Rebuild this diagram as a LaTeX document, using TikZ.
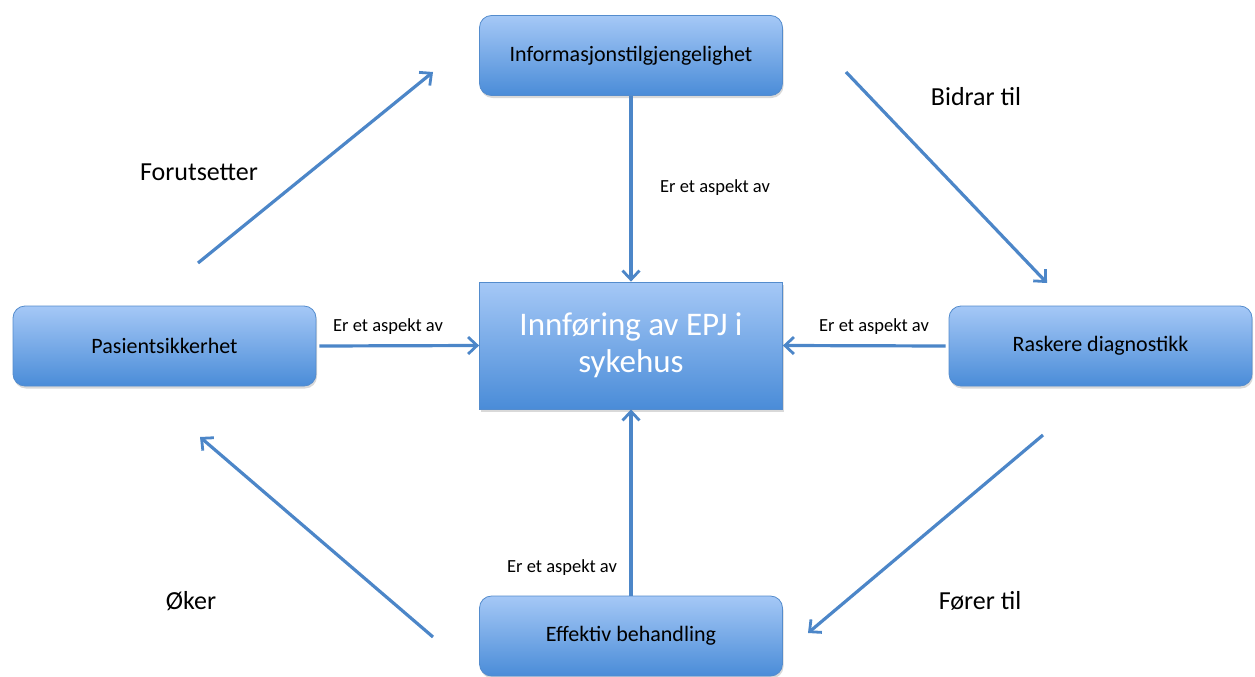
\documentclass[tikz,border=0pt]{standalone}
\usepackage{fontspec}
\setmainfont{Carlito}
\usetikzlibrary{shadows,arrows.meta}
\definecolor{arr}{RGB}{76,134,200}
\definecolor{boxtop}{RGB}{165,200,246}
\definecolor{boxbot}{RGB}{74,140,216}
\definecolor{boxedge}{RGB}{84,140,205}
\tikzset{
  box/.style={draw=boxedge, line width=0.8pt, top color=boxtop, bottom color=boxbot,
    rounded corners=12pt, minimum width=303pt, minimum height=80pt, font=\fontsize{22}{26}\selectfont,
    drop shadow={shadow xshift=1pt, shadow yshift=-2.5pt, opacity=0.3}},
  mainbox/.style={box, rounded corners=0pt, minimum height=127pt, align=center,
    text=white, font=\fontsize{33}{37}\selectfont},
  conn/.style={draw=arr, line width=3.2pt, -{Straight Barb[length=9pt,width=17pt,line width=2.8pt]}},
  lab/.style={font=\fontsize{18.5}{21}\selectfont},
  biglab/.style={font=\fontsize{26}{30}\selectfont}
}
\begin{document}
\begin{tikzpicture}[x=1pt,y=-1pt]
\useasboundingbox (0,0) rectangle (1255,677);
\node[mainbox] (c) at (631,345.5) {Innføring av EPJ i\\sykehus};
\node[box] (info) at (631,55.5) {Informasjonstilgjengelighet};
\node[box] (pas) at (164.5,346) {Pasientsikkerhet};
\node[box] (ras) at (1100.5,346) {Raskere diagnostikk};
\node[box] (eff) at (631,636) {Effektiv behandling};

\draw[conn] (info.south) -- (c.north);
\draw[conn] (pas.east) ++(3,0) -- (c.west);
\draw[conn] (ras.west) ++(-3,0) -- (c.east);
\draw[conn] (eff.north) -- (c.south);

\node[lab] (l1) at (715,188) {Er et aspekt av};
\node[lab] (l2) at (388,327) {Er et aspekt av};
\node[lab] (l3) at (874,327) {Er et aspekt av};
\node[lab] (l4) at (562,568) {Er et aspekt av};

\coordinate (a1s) at (198,263); \coordinate (a1e) at (433,72);
\coordinate (a2s) at (846,72); \coordinate (a2e) at (1047,283);
\coordinate (a3s) at (1043,435); \coordinate (a3e) at (808,633);
\coordinate (a4s) at (433,637); \coordinate (a4e) at (200,437);
\draw[conn] (a1s) -- (a1e);
\draw[conn] (a2s) -- (a2e);
\draw[conn] (a3s) -- (a3e);
\draw[conn] (a4s) -- (a4e);

\node[biglab] (f1) at (199,172) {Forutsetter};
\node[biglab] (f2) at (976,97) {Bidrar til};
\node[biglab] (f3) at (980,601) {Fører til};
\node[biglab] (f4) at (191,601) {Øker};
\end{tikzpicture}
\end{document}
